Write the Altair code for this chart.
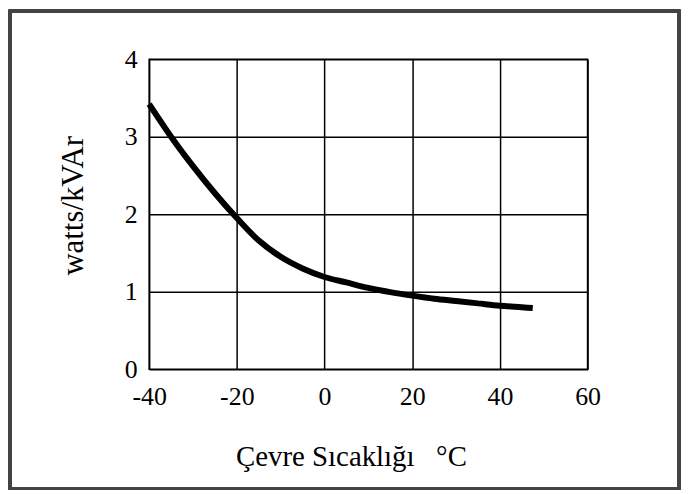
import altair as alt
import pandas as pd

temps = [-40, -35, -30, -25, -20, -15, -10, -5, 0, 5, 10, 15, 20, 25, 30, 35, 40, 45, 47.5]
watts = [3.42, 3.00, 2.62, 2.27, 1.95, 1.66, 1.45, 1.30, 1.19, 1.12, 1.05, 0.995, 0.95, 0.91, 0.88, 0.85, 0.82, 0.80, 0.79]

x_ticks = [-40, -20, 0, 20, 40, 60]
y_ticks = [0, 1, 2, 3, 4]

df = pd.DataFrame({"t": temps, "w": watts})

FONT = "Liberation Serif"

line = alt.Chart(df).mark_line(color="black", strokeWidth=6, interpolate="monotone", clip=False).encode(
    x=alt.X("t:Q",
            scale=alt.Scale(domain=[-40, 60], nice=False, zero=False),
            axis=alt.Axis(values=x_ticks,
                          labelExpr="datum.value < 0 ? datum.value + '\u2007' : '' + datum.value",
                          labelFlush=False,
                          title="Çevre Sıcaklığı\u00a0\u00a0\u00a0°C",
                          titleX=203, titleY=97, titleBaseline="alphabetic", titleAlign="center",
                          labelPadding=14)),
    y=alt.Y("w:Q",
            scale=alt.Scale(domain=[0, 4], nice=False),
            axis=alt.Axis(values=y_ticks, title="watts/kVAr", titleFontSize=31,
                          titleX=-67, titleY=147, titleAngle=270, titleBaseline="alphabetic",
                          titleAlign="center", labelPadding=12)),
)

frame = alt.Chart(df).mark_rect(filled=False, stroke="#444444", strokeWidth=2.5, clip=False).encode(
    x=alt.value(-140), x2=alt.value(533), y=alt.value(-48.5), y2=alt.value(432)
)

chart = alt.layer(frame, line).properties(
    width=441, height=312,
    autosize=alt.AutoSizeParams(type="none"),
    padding={"left": 142, "top": 50, "right": 94, "bottom": 122},
    background="white",
).configure_view(
    stroke="black", strokeWidth=1.5
).configure_axis(
    domain=False, ticks=False, grid=True, gridColor="black", gridOpacity=1, gridWidth=1.5,
    labelFont=FONT, labelFontSize=26, labelColor="black",
    titleFont=FONT, titleFontSize=29, titleColor="black", titleFontWeight="normal",
)

chart.save("out.html", embed_options={"renderer": "svg", "actions": False})
